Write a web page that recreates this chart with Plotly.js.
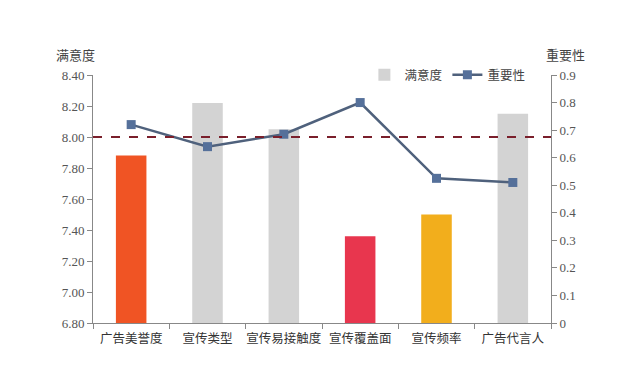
<!DOCTYPE html>
<html><head><meta charset="utf-8">
<script src="https://cdn.plot.ly/plotly-3.0.1.min.js"></script>
<style>body{margin:0;background:#fff}#c{width:640px;height:366px}</style>
</head><body><div id="c"></div>
<script>
const categories = ["广告美誉度","宣传类型","宣传易接触度","宣传覆盖面","宣传频率","广告代言人"];
const satisfaction = [7.88, 8.22, 8.05, 7.36, 7.50, 8.15];
const importance = [0.72, 0.64, 0.685, 0.80, 0.525, 0.51];
const barColors = ["#f05424","#d3d3d3","#d3d3d3","#e8364e","#f2ae1c","#d3d3d3"];
const threshold = 8.00;
const leftTicks = [6.8,7.0,7.2,7.4,7.6,7.8,8.0,8.2,8.4];
const rightTicks = [0,0.1,0.2,0.3,0.4,0.5,0.6,0.7,0.8,0.9];

const cjk = '"Noto Sans CJK SC", sans-serif';
const serif = '"Liberation Serif", "DejaVu Serif", serif';

const data = [
  {type:'bar', x:categories, y:satisfaction, name:'满意度', width:0.4,
   marker:{color:barColors}, showlegend:false, yaxis:'y'},
  {type:'bar', x:[null], y:[null], name:'满意度', marker:{color:'#d3d3d3'}, showlegend:true, hoverinfo:'skip'},
  {type:'scatter', mode:'lines+markers', x:categories, y:importance, name:'重要性', yaxis:'y2',
   line:{color:'#4f617c', width:2.5}, marker:{symbol:'square', size:9, color:'#55709a'}}
];
const layout = {
  width:640, height:366,
  margin:{l:93, r:89, t:75, b:43},
  paper_bgcolor:'#fff', plot_bgcolor:'#fff',
  font:{family:cjk, color:'#333'},
  showlegend:true,
  legend:{orientation:'h', x:0.955, xanchor:'right', y:1.0, yanchor:'middle',
          font:{family:cjk, size:12.5, color:'#444'}, bgcolor:'rgba(0,0,0,0)', traceorder:'normal'},
  xaxis:{type:'category', showline:true, linecolor:'#888', linewidth:1, ticks:'outside', ticklen:5,
         tickcolor:'#888', tickson:'boundaries', showgrid:false, tickangle:0, automargin:false,
         ticklabelstandoff:4, tickfont:{family:cjk, size:12.5, color:'#333'}},
  yaxis:{range:[6.8,8.4], tickvals:leftTicks, ticktext:leftTicks.map(v=>v.toFixed(2)),
         showline:true, linecolor:'#888', ticks:'outside', ticklen:5, tickcolor:'#888', showgrid:false,
         zeroline:false, tickfont:{family:serif, size:13, color:'#555'}},
  yaxis2:{range:[0,0.9], overlaying:'y', side:'right', tickvals:rightTicks,
          ticktext:rightTicks.map(v=>v===0?'0':v.toFixed(1)),
          showline:true, linecolor:'#888', ticks:'outside', ticklen:5, tickcolor:'#888', showgrid:false,
          zeroline:false, tickfont:{family:serif, size:13, color:'#555'}},
  shapes:[{type:'line', xref:'paper', x0:0, x1:1, yref:'y', y0:threshold, y1:threshold,
           line:{color:'#7a1f2b', width:2, dash:'dash'}}],
  annotations:[
    {text:'满意度', xref:'paper', yref:'paper', x:-0.039, y:1.081, xanchor:'center', yanchor:'middle',
     showarrow:false, font:{family:cjk, size:13, color:'#444'}},
    {text:'重要性', xref:'paper', yref:'paper', x:1.031, y:1.081, xanchor:'center', yanchor:'middle',
     showarrow:false, font:{family:cjk, size:13, color:'#444'}}
  ]
};
Plotly.newPlot('c', data, layout, {displayModeBar:false, staticPlot:true});
</script></body></html>
